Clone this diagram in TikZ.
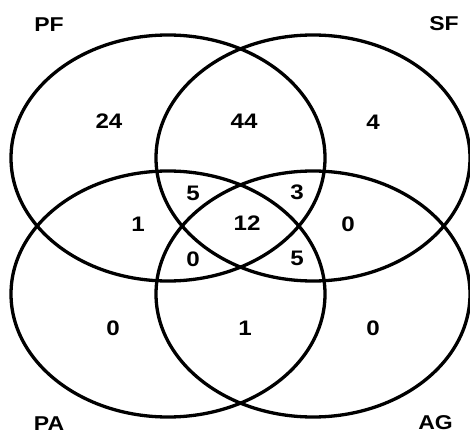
\documentclass[tikz,border=0pt]{standalone}
\usepackage{fontspec}
\setmainfont{Liberation Sans}
\newfontfamily\widefont[FakeStretch=1.15]{Liberation Sans}
\usetikzlibrary{shapes.geometric}
\begin{document}
\begin{tikzpicture}[x=1pt,y=-1pt,
  setell/.style={draw=black,line width=3.3pt,ellipse,minimum width=314pt,minimum height=246pt,inner sep=0pt},
  num/.style={font=\widefont\fontsize{21}{23}\selectfont\bfseries,inner sep=0pt},
  lab/.style={font=\widefont\fontsize{20}{22}\selectfont\bfseries,inner sep=0pt}]
\useasboundingbox (0,0) rectangle (470,435);
\node[setell] (pf) at (168,158) {};
\node[setell] (sf) at (313,158) {};
\node[setell] (pa) at (168,294) {};
\node[setell] (ag) at (313,294) {};
\node[lab] (lpf) at (49,24.5) {PF};
\node[lab] (lsf) at (444,24) {SF};
\node[lab] (lpa) at (49,424) {PA};
\node[lab] (lag) at (435.5,423) {AG};
\node[num] (n1) at (109,121) {24};
\node[num] (n2) at (244,121) {44};
\node[num] (n3) at (373,122) {4};
\node[num] (n4) at (193,193) {5};
\node[num] (n5) at (297,192) {3};
\node[num] (n6) at (138,224) {1};
\node[num] (n7) at (247,223) {12};
\node[num] (n8) at (348,224) {0};
\node[num] (n9) at (193,259) {0};
\node[num] (n10) at (297,258) {5};
\node[num] (n11) at (113,328) {0};
\node[num] (n12) at (245,328) {1};
\node[num] (n13) at (373,328) {0};
\end{tikzpicture}
\end{document}
